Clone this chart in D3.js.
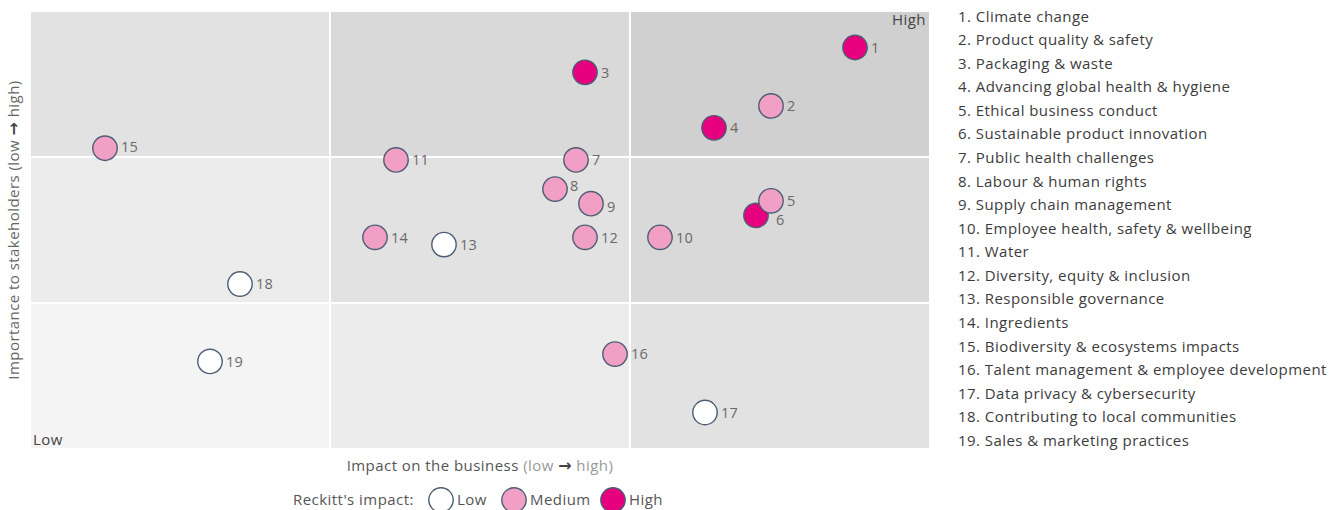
<!DOCTYPE html>
<html>
<head>
<meta charset="utf-8">
<script src="https://cdn.jsdelivr.net/npm/d3@7"></script>
<style>
  html, body { margin: 0; padding: 0; background: #fff; }
  svg { display: block; }
  text { font-family: "Open Sans", "Noto Sans", sans-serif; }
  .arrow { font-family: "DejaVu Sans", sans-serif; }
</style>
</head>
<body>
<svg id="chart" width="1339" height="510"></svg>
<script>
// ---- data ----
const ids = [1,2,3,4,5,6,7,8,9,10,11,12,13,14,15,16,17,18,19];
const topics = [
  "Climate change",
  "Product quality & safety",
  "Packaging & waste",
  "Advancing global health & hygiene",
  "Ethical business conduct",
  "Sustainable product innovation",
  "Public health challenges",
  "Labour & human rights",
  "Supply chain management",
  "Employee health, safety & wellbeing",
  "Water",
  "Diversity, equity & inclusion",
  "Responsible governance",
  "Ingredients",
  "Biodiversity & ecosystems impacts",
  "Talent management & employee development",
  "Data privacy & cybersecurity",
  "Contributing to local communities",
  "Sales & marketing practices"
];
// impact on the business (0-3)
const businessImpact = [2.75,2.47,1.85,2.28,2.47,2.42,1.82,1.75,1.87,2.10,1.22,1.85,1.38,1.15,0.25,1.95,2.25,0.70,0.60];
// importance to stakeholders (0-3)
const stakeholderImportance = [2.75,2.35,2.58,2.20,1.70,1.60,1.98,1.78,1.68,1.45,1.98,1.45,1.40,1.45,2.06,0.65,0.25,1.13,0.60];
// Reckitt's impact level
const reckittImpact = ["High","Medium","High","High","Medium","High","Medium","Medium","Medium","Medium","Medium","Medium","Low","Medium","Medium","Medium","Low","Low","Low"];
const impactLevels = ["Low","Medium","High"];
const bandEdges = [0,1,2,3];

// ---- styles / layout ----
const impactFill = d3.scaleOrdinal().domain(impactLevels).range(["#ffffff","#f29fc5","#e6007e"]);
const cellShades = ["#f4f4f4","#ececec","#e2e2e2","#d9d9d9","#d0d0d0"];
const strokeCol = "#4d5e74";
const labelNudge = {6: [4, 4], 8: [-1, -3], 9: [0, 3], 15: [0, -1]};
const LS = "0.45px";

const svg = d3.select("#chart");
const x = d3.scaleLinear().domain([0,3]).range([30,930]);
const y = d3.scaleLinear().domain([0,3]).range([449,11]);

// background cells
const cells = [];
for (let i = 0; i < 3; i++) for (let j = 0; j < 3; j++) cells.push({i, j});
svg.append("g").selectAll("rect").data(cells).join("rect")
  .attr("x", d => x(bandEdges[d.i]) + 1)
  .attr("width", d => x(bandEdges[d.i+1]) - x(bandEdges[d.i]) - 2)
  .attr("y", d => y(bandEdges[d.j+1]) + 1)
  .attr("height", d => y(bandEdges[d.j]) - y(bandEdges[d.j+1]) - 2)
  .attr("fill", d => cellShades[d.i + d.j]);

// corner labels
svg.append("text").attr("x", x(3) - 4).attr("y", y(3) + 14)
  .attr("text-anchor", "end").attr("font-size", 15).attr("letter-spacing", LS).attr("fill", "#444").text("High");
svg.append("text").attr("x", x(0) + 3).attr("y", y(0) - 4)
  .attr("text-anchor", "start").attr("font-size", 15).attr("letter-spacing", LS).attr("fill", "#444").text("Low");

// points
const pts = ids.map((id, k) => ({id, bx: businessImpact[k], sy: stakeholderImportance[k], lvl: reckittImpact[k]})).reverse();
svg.append("g").selectAll("circle").data(pts).join("circle")
  .attr("cx", d => x(d.bx)).attr("cy", d => y(d.sy))
  .attr("r", 12.2).attr("fill", d => impactFill(d.lvl))
  .attr("stroke", strokeCol).attr("stroke-width", 1.4);
svg.append("g").selectAll("text").data(pts).join("text")
  .attr("x", d => x(d.bx) + 16 + (labelNudge[d.id] ? labelNudge[d.id][0] : 0))
  .attr("y", d => y(d.sy) + (labelNudge[d.id] ? labelNudge[d.id][1] : 0))
  .attr("dy", "0.36em").attr("font-size", 14.5).attr("letter-spacing", "0.2px")
  .attr("fill", "#6a6a6a").text(d => d.id);

// axis titles
const xt = svg.append("text").attr("x", (x(0)+x(3))/2).attr("y", 471)
  .attr("text-anchor", "middle").attr("font-size", 15).attr("letter-spacing", LS).attr("fill", "#555");
xt.append("tspan").text("Impact on the business ");
xt.append("tspan").attr("fill", "#999").text("(low ");
xt.append("tspan").attr("class", "arrow").attr("fill", "#444").attr("font-size", 16).attr("font-weight", "bold").text("\u2192");
xt.append("tspan").attr("fill", "#999").text(" high)");

const yt = svg.append("text").attr("transform", `translate(19,${(y(0)+y(3))/2}) rotate(-90)`)
  .attr("text-anchor", "middle").attr("font-size", 15).attr("letter-spacing", LS).attr("fill", "#666");
yt.append("tspan").text("Importance to stakeholders (low ");
yt.append("tspan").attr("class", "arrow").attr("fill", "#444").attr("font-size", 16).attr("font-weight", "bold").text("\u2192");
yt.append("tspan").text(" high)");

// legend
const lg = svg.append("g").attr("transform", "translate(0,500)");
lg.append("text").attr("x", 293).attr("dy", "0.35em").attr("font-size", 15).attr("letter-spacing", LS).attr("fill", "#555").text("Reckitt's impact:");
const legX = [441, 514, 613];
const li = lg.selectAll("g.item").data(impactLevels).join("g").attr("class","item")
  .attr("transform", (d,i) => `translate(${legX[i]},0)`);
li.append("circle").attr("r", 12.2).attr("fill", d => impactFill(d)).attr("stroke", strokeCol).attr("stroke-width", 1.4);
li.append("text").attr("x", 16).attr("dy", "0.35em").attr("font-size", 15).attr("letter-spacing", LS).attr("fill", "#555").text(d => d);

// topic list
svg.append("g").selectAll("text").data(topics).join("text")
  .attr("x", 958).attr("y", (d,i) => 21.5 + i*23.58)
  .attr("font-size", 15).attr("letter-spacing", LS).attr("fill", "#3c3c3c")
  .text((d,i) => `${ids[i]}. ${d}`);
</script>
</body>
</html>
